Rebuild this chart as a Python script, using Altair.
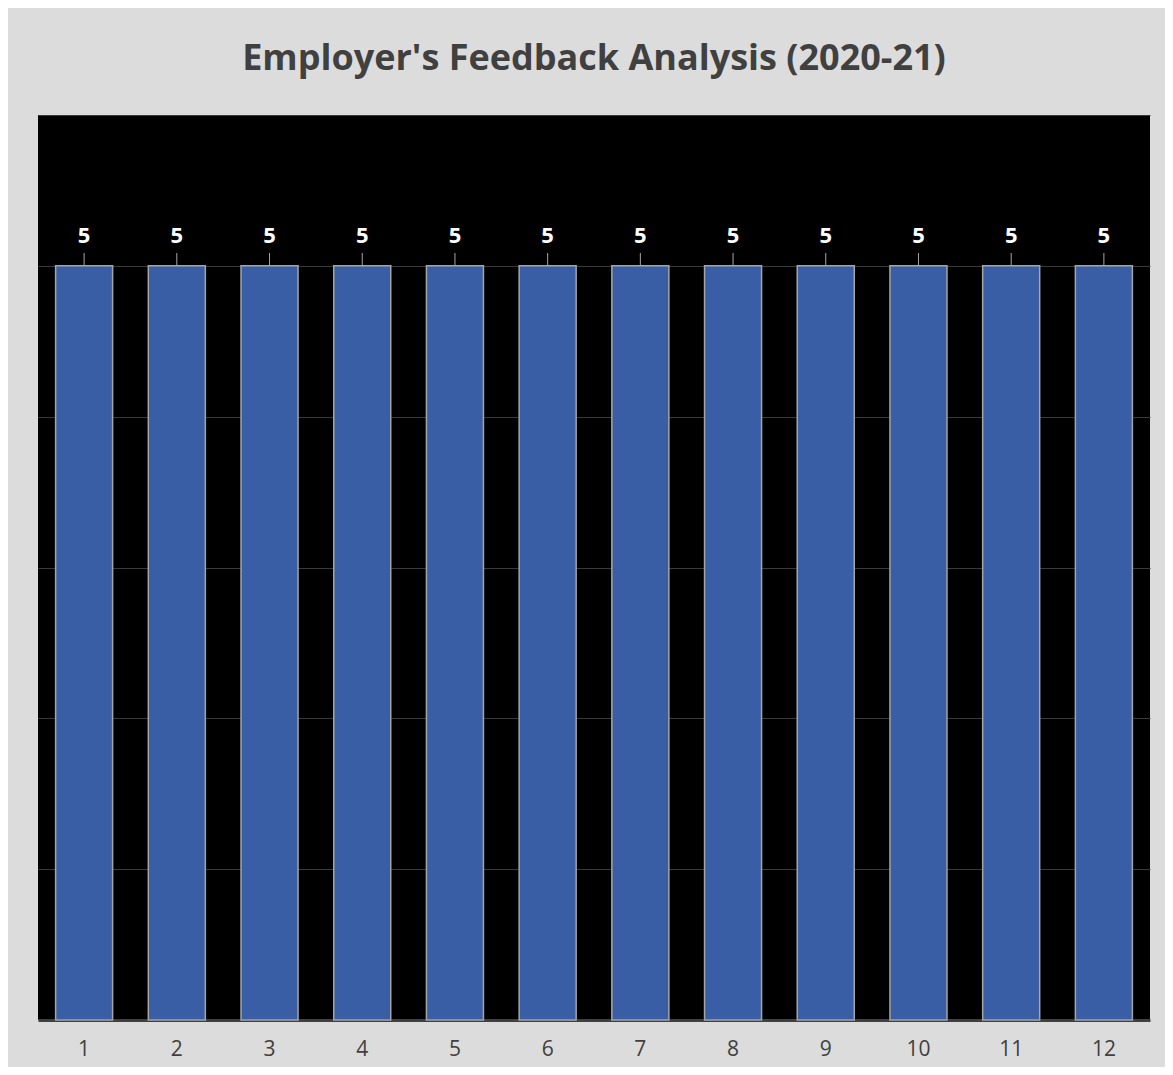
import altair as alt
import pandas as pd

categories = ["1", "2", "3", "4", "5", "6", "7", "8", "9", "10", "11", "12"]
values = [5, 5, 5, 5, 5, 5, 5, 5, 5, 5, 5, 5]
title_text = "Employer's Feedback Analysis (2020-21)"

df = pd.DataFrame({"item": categories, "score": values})

x_enc = alt.X(
    "item:N",
    sort=categories,
    scale=alt.Scale(paddingInner=0.385, paddingOuter=0.19),
    axis=alt.Axis(
        title=None, labelAngle=0, labelFontSize=21, labelColor="#404040",
        labelFont="Open Sans", labelPadding=18, ticks=False,
        domainColor="#404040", domainWidth=3, grid=False,
    ),
)
y_enc = alt.Y(
    "score:Q",
    scale=alt.Scale(domain=[0, 6], nice=False),
    axis=alt.Axis(
        title=None, labels=False, ticks=False, domain=False, grid=True,
        gridColor="#3a3a3a", gridWidth=1, values=[1, 2, 3, 4, 5, 6],
    ),
)

base = alt.Chart(df)

bars = base.mark_bar(color="#3A5EA6", stroke="#A5A5A5", strokeWidth=1.5).encode(
    x=x_enc, y=y_enc
)

leaders = base.transform_calculate(top="datum.score + 0.085").mark_rule(
    color="#A6A6A6", strokeWidth=1
).encode(x=alt.X("item:N", sort=categories), y="score:Q", y2="top:Q")

labels = base.mark_text(
    dy=-30, fontSize=22, fontWeight="bold", color="white", font="Open Sans",
    baseline="middle",
).encode(x=alt.X("item:N", sort=categories), y="score:Q", text="score:Q")

chart = alt.layer(bars, leaders, labels).properties(
    width=1112,
    height=905,
    title=alt.TitleParams(
        text=title_text, fontSize=36, font="Open Sans", fontWeight="bold",
        color="#404040", anchor="middle", baseline="alphabetic", offset=9,
    ),
    padding={"left": 30, "top": 107, "right": 15, "bottom": 47},
    autosize=alt.AutoSizeParams(type="none"),
    background="#DCDCDC",
).configure_view(fill="black", stroke=None)

chart.save("out.html", embed_options={"renderer": "svg", "actions": False})
